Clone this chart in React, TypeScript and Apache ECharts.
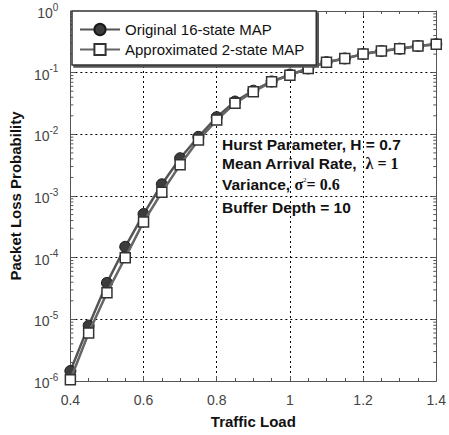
import React, { useEffect, useRef } from "react";
import * as echarts from "echarts";

const trafficLoad = [0.4, 0.45, 0.5, 0.55, 0.6, 0.65, 0.7, 0.75, 0.8, 0.85, 0.9, 0.95, 1.0, 1.05, 1.1, 1.15, 1.2, 1.25, 1.3, 1.35, 1.4];
const original16 = [1.45e-6, 7.9e-6, 3.9e-5, 1.5e-4, 5.1e-4, 1.55e-3, 4.1e-3, 9.1e-3, 0.019, 0.034, 0.051, 0.072, 0.093, 0.117, 0.148, 0.17, 0.2, 0.224, 0.245, 0.27, 0.29];
const approx2 = [1.05e-6, 6.0e-6, 2.7e-5, 1.0e-4, 3.8e-4, 1.15e-3, 3.2e-3, 8.1e-3, 0.017, 0.032, 0.049, 0.071, 0.091, 0.117, 0.148, 0.17, 0.2, 0.224, 0.245, 0.27, 0.29];
const seriesNames = ["Original 16-state MAP", "Approximated 2-state MAP"];
const minorTickValues: number[] = [];
for (let e = -6; e < 0; e++) {
  for (let k = 2; k <= 9; k++) minorTickValues.push(k * Math.pow(10, e));
}

const FONT = "Arial, 'Liberation Sans', Helvetica, sans-serif";
const SERIF = "'Liberation Serif', 'DejaVu Serif', serif";

export default function App() {
  const ref = useRef<HTMLDivElement>(null);
  useEffect(() => {
    if (!ref.current) return;
    const chart = echarts.init(ref.current, undefined, { renderer: "svg" });
    const xAxisBase = {
      type: "value" as const,
      min: 0.4,
      max: 1.4,
      interval: 0.2,
      axisLine: { show: true, lineStyle: { color: "#555", width: 1 } },
      axisTick: { show: true, inside: true, length: 5, lineStyle: { color: "#555" } },
      minorTick: { show: true, splitNumber: 4, length: 3, lineStyle: { color: "#555" } },
    };
    const yAxisBase = {
      type: "log" as const,
      logBase: 10,
      min: 1e-6,
      max: 1,
      splitNumber: 6,
      axisLine: { show: true, lineStyle: { color: "#555", width: 1 } },
      axisTick: { show: true, inside: true, length: 5, lineStyle: { color: "#555" } },
    };
    chart.setOption({
      animation: false,
      backgroundColor: "#fff",
      grid: { left: 69, right: 12, top: 11, bottom: 54, containLabel: false },
      legend: {
        data: seriesNames,
        orient: "vertical",
        left: 72,
        top: 11,
        padding: [11, 12, 8, 7],
        itemGap: 5,
        itemWidth: 40,
        itemHeight: 14,
        backgroundColor: "#fff",
        borderColor: "#333",
        borderWidth: 1.5,
        shadowColor: "#555",
        shadowOffsetX: 2,
        shadowOffsetY: 2,
        shadowBlur: 0,
        textStyle: { fontFamily: FONT, fontSize: 15, color: "#111" },
        z: 10,
      },
      xAxis: [
        {
          ...xAxisBase,
          position: "bottom",
          name: "Traffic Load",
          nameLocation: "middle",
          nameGap: 33,
          nameTextStyle: { fontFamily: FONT, fontSize: 15, fontWeight: "bold", color: "#111" },
          axisLabel: { fontFamily: FONT, fontSize: 14, color: "#444", margin: 12 },
          splitLine: { show: true, lineStyle: { color: "#000", type: [2, 3], width: 1 } },
        },
        {
          ...xAxisBase,
          position: "top",
          axisLabel: { show: false },
          splitLine: { show: false },
        },
      ],
      yAxis: [
        {
          ...yAxisBase,
          position: "left",
          name: "Packet Loss Probability",
          nameLocation: "middle",
          nameGap: 42,
          nameTextStyle: { fontFamily: FONT, fontSize: 15, fontWeight: "bold", color: "#111" },
          axisLabel: {
            margin: 12,
            formatter: (v: number) => `{b|10}{s|${Math.round(Math.log10(v))}}`,
            rich: {
              b: { fontFamily: FONT, fontSize: 14, color: "#444", lineHeight: 18, verticalAlign: "bottom" },
              s: { fontFamily: FONT, fontSize: 10, color: "#444", lineHeight: 10, verticalAlign: "top" },
            },
          },
          splitLine: { show: true, lineStyle: { color: "#000", type: [2, 3], width: 1 } },
        },
        {
          ...yAxisBase,
          position: "right",
          axisLabel: { show: false },
          splitLine: { show: false },
        },
      ],
      graphic: [
        {
          type: "text",
          left: 222,
          top: 136,
          z: 20,
          style: {
            text: "Hurst Parameter, H = 0.7",
            fontFamily: FONT,
            fontSize: 15.5,
            fontWeight: "bold",
            fill: "#111",
          },
        },
        {
          type: "text",
          left: 222,
          top: 155,
          z: 20,
          style: {
            text: "{a|Mean Arrival Rate, }{g|\u03bb = 1}",
            rich: {
              a: { fontFamily: FONT, fontSize: 15.5, fontWeight: "bold", fill: "#111" },
              g: { fontFamily: SERIF, fontSize: 16, fontWeight: "bold", fill: "#111", padding: [0, 0, 0, 4] },
            },
          },
        },
        {
          type: "text",
          left: 222,
          top: 176,
          z: 20,
          style: {
            text: "{a|Variance, }{g|\u03c3}{s|2}{g|= 0.6}",
            rich: {
              a: { fontFamily: FONT, fontSize: 15.5, fontWeight: "bold", fill: "#111" },
              g: { fontFamily: SERIF, fontSize: 16, fontWeight: "bold", fill: "#111" },
              s: { fontFamily: SERIF, fontSize: 7, fill: "#111", verticalAlign: "top", lineHeight: 8 },
            },
          },
        },
        {
          type: "text",
          left: 222,
          top: 199,
          z: 20,
          style: {
            text: "Buffer Depth = 10",
            fontFamily: FONT,
            fontSize: 15.5,
            fontWeight: "bold",
            fill: "#111",
          },
        },
      ],
      series: [
        {
          name: seriesNames[0],
          type: "line",
          xAxisIndex: 0,
          yAxisIndex: 0,
          data: trafficLoad.map((x, i) => [x, original16[i]]),
          symbol: "circle",
          symbolSize: 11,
          lineStyle: { color: "#555", width: 2.5 },
          itemStyle: { color: "#3c3c3c", borderColor: "#1a1a1a", borderWidth: 1 },
          z: 3,
        },
        {
          name: seriesNames[1],
          type: "line",
          xAxisIndex: 0,
          yAxisIndex: 0,
          data: trafficLoad.map((x, i) => [x, approx2[i]]),
          symbol: "rect",
          symbolSize: 10,
          lineStyle: { color: "#666", width: 2.5 },
          itemStyle: { color: "#fff", borderColor: "#333", borderWidth: 1.5 },
          z: 4,
        },
        {
          type: "custom",
          xAxisIndex: 0,
          yAxisIndex: 0,
          silent: true,
          data: minorTickValues.map((v) => [0.4, v]),
          renderItem: (params: any, api: any) => {
            const cs = params.coordSys;
            const y = api.coord([api.value(0), api.value(1)])[1];
            return {
              type: "group",
              children: [
                { type: "line", shape: { x1: cs.x, y1: y, x2: cs.x + 3, y2: y }, style: { stroke: "#555", lineWidth: 1 } },
                { type: "line", shape: { x1: cs.x + cs.width, y1: y, x2: cs.x + cs.width - 3, y2: y }, style: { stroke: "#555", lineWidth: 1 } },
              ],
            };
          },
        },
      ],
    });
    return () => chart.dispose();
  }, []);
  return <div ref={ref} style={{ position: "fixed", left: 0, top: 0, width: 449, height: 435 }} />;
}
